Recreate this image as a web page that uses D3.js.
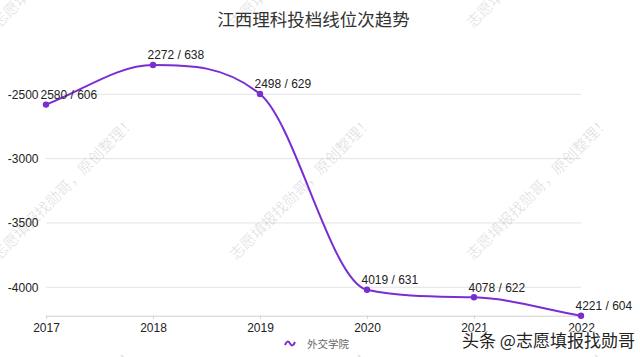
<!DOCTYPE html>
<html><head><meta charset="utf-8">
<script src="https://cdn.jsdelivr.net/npm/d3@7"></script>
<style>
html,body{margin:0;padding:0;background:#fff;}
svg{display:block;}
</style></head>
<body>
<svg id="chart" width="640" height="357"></svg>
<script>
const title = "江西理科投档线位次趋势";
const years = ["2017","2018","2019","2020","2021","2022"];
const ranks = [2580, 2272, 2498, 4019, 4078, 4221];
const scores = [606, 638, 629, 631, 622, 604];
const yTicks = [-2500, -3000, -3500, -4000];
const seriesName = "外交学院";
const watermarkText = "志愿填报找勋哥，原创整理！";
const footerText = "头条 @志愿填报找勋哥";

const plotL = 46, plotR = 581, plotT = 65, plotB = 315.7;
const purple = "#7a2ed2";
const numFont = "'Liberation Sans', Arial, 'Noto Sans CJK SC', sans-serif";
const cjkFont = "'Noto Sans CJK SC', 'Liberation Sans', sans-serif";

const svg = d3.select("#chart");
const values = ranks.map(r => -r);

const x = d3.scalePoint().domain(years).range([plotL, plotR]);
const y = d3.scaleLinear().domain([d3.min(values), d3.max(values)]).range([plotB, plotT]);

// gridlines
svg.append("g").selectAll("line").data(yTicks).join("line")
  .attr("x1", plotL).attr("x2", plotR)
  .attr("y1", d => y(d)).attr("y2", d => y(d))
  .attr("stroke", "#e4e4e4").attr("stroke-width", 1);

// y tick labels
svg.append("g").selectAll("text").data(yTicks).join("text")
  .attr("x", 38.5).attr("y", d => y(d) + 4.3)
  .attr("text-anchor", "end")
  .attr("font-family", numFont).attr("font-size", 12).attr("fill", "#222")
  .text(d => d);

// x axis
const xAxis = d3.axisBottom(x).tickSize(3).tickPadding(5).tickSizeOuter(0);
const gx = svg.append("g").attr("transform", `translate(0,${plotB})`).call(xAxis);
gx.select(".domain").attr("stroke", "#d0d0d0");
gx.selectAll(".tick line").attr("stroke", "#d0d0d0");
gx.selectAll(".tick text").attr("font-family", numFont).attr("font-size", 12).attr("fill", "#222");

// watermark
const wm = svg.append("g").attr("pointer-events", "none");
const wmCols = [65, 302, 539];
const wmRows = [-43, 189, 421];
wmRows.forEach(cy => wmCols.forEach(cx => {
  wm.append("text")
    .attr("transform", `translate(${cx},${cy}) rotate(-45)`)
    .attr("text-anchor", "middle").attr("dominant-baseline", "middle")
    .attr("font-family", cjkFont).attr("font-size", 15)
    .attr("fill", "#000").attr("fill-opacity", 0.12)
    .text(watermarkText);
}));

// monotone cubic (Fritsch-Carlson, as in Chart.js) in pixel space
const pts = years.map((yr, i) => [x(yr), y(values[i])]);
const n = pts.length;
const dK = [], mK = [];
for (let i = 0; i < n - 1; i++) dK[i] = (pts[i+1][1] - pts[i][1]) / (pts[i+1][0] - pts[i][0]);
for (let i = 0; i < n; i++) {
  if (i === 0) mK[i] = dK[0];
  else if (i === n - 1) mK[i] = dK[n - 2];
  else mK[i] = (Math.sign(dK[i-1]) !== Math.sign(dK[i])) ? 0 : (dK[i-1] + dK[i]) / 2;
}
for (let i = 0; i < n - 1; i++) {
  if (Math.abs(dK[i]) < 1e-9) { mK[i] = mK[i+1] = 0; continue; }
  const a = mK[i] / dK[i], b = mK[i+1] / dK[i];
  const s = a*a + b*b;
  if (s <= 9) continue;
  const t = 3 / Math.sqrt(s);
  mK[i] = a * t * dK[i];
  mK[i+1] = b * t * dK[i];
}
const p = d3.path();
p.moveTo(pts[0][0], pts[0][1]);
for (let i = 0; i < n - 1; i++) {
  const dx = (pts[i+1][0] - pts[i][0]) / 3;
  p.bezierCurveTo(pts[i][0] + dx, pts[i][1] + dx * mK[i],
                  pts[i+1][0] - dx, pts[i+1][1] - dx * mK[i+1],
                  pts[i+1][0], pts[i+1][1]);
}
svg.append("path").attr("d", p.toString())
  .attr("fill", "none").attr("stroke", purple).attr("stroke-width", 2);

// points
svg.append("g").selectAll("circle").data(years).join("circle")
  .attr("cx", d => x(d)).attr("cy", (d, i) => y(values[i]))
  .attr("r", 3.2).attr("fill", purple);

// data labels
svg.append("g").selectAll("text").data(years).join("text")
  .attr("x", d => x(d) - 5.5).attr("y", (d, i) => y(values[i]) - 5.7)
  .attr("font-family", numFont).attr("font-size", 12).attr("fill", "#222")
  .text((d, i) => `${ranks[i]} / ${scores[i]}`);

// title
svg.append("text")
  .attr("x", (plotL + plotR) / 2).attr("y", 26)
  .attr("text-anchor", "middle")
  .attr("font-family", cjkFont).attr("font-size", 17.5).attr("fill", "#333")
  .text(title);

// legend
const lg = svg.append("g");
lg.append("path").attr("d", "M285,345 q2.5,-6 5,-1.5 t5,-1.5")
  .attr("fill", "none").attr("stroke", purple).attr("stroke-width", 2);
lg.append("text").attr("x", 307).attr("y", 347.5)
  .attr("font-family", cjkFont).attr("font-size", 10.5).attr("fill", "#666")
  .text(seriesName);

// footer watermark
svg.append("text").attr("x", 462).attr("y", 346.5)
  .attr("font-family", cjkFont).attr("font-size", 17).attr("fill", "#222")
  .attr("stroke", "#fff").attr("stroke-width", 2).attr("paint-order", "stroke")
  .text(footerText);
</script>
</body></html>
